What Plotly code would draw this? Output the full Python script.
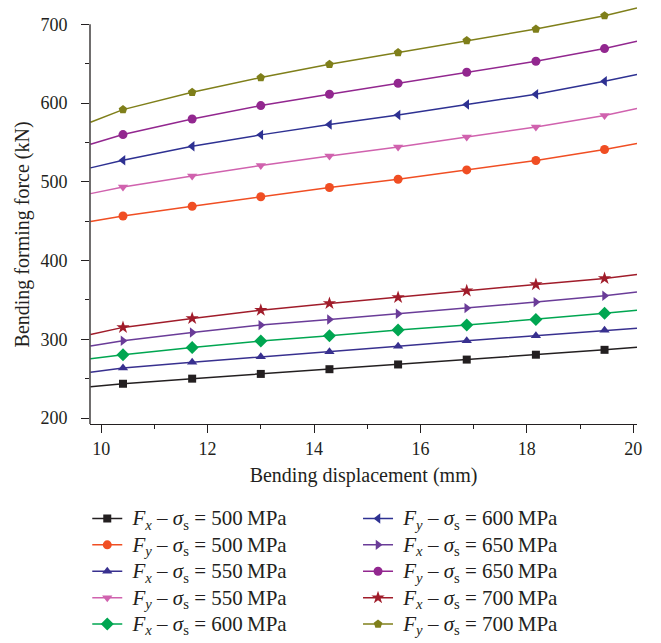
import plotly.graph_objects as go

# Bending displacement (mm): line runs edge to edge, markers on interior points
disp = [9.80, 10.41, 11.71, 13.00, 14.29, 15.58, 16.87, 18.17, 19.46, 20.07]

fx_500 = [239.7, 243.5, 250.0, 256.0, 262.0, 268.0, 274.2, 280.4, 286.6, 290.0]
fy_500 = [449.5, 456.6, 469.0, 481.0, 492.8, 503.3, 515.1, 527.0, 541.0, 548.6]
fx_550 = [258.0, 263.5, 270.7, 277.8, 284.2, 291.3, 298.1, 304.4, 311.6, 314.1]
fy_550 = [485.0, 493.4, 507.3, 520.8, 532.9, 544.3, 557.0, 569.7, 584.1, 593.0]
fx_600 = [275.3, 280.4, 289.7, 297.7, 304.4, 311.7, 318.0, 325.2, 332.9, 337.0]
fy_600 = [517.7, 527.4, 545.2, 559.6, 572.7, 584.9, 598.1, 611.2, 627.7, 636.2]
fx_650 = [291.4, 298.1, 308.7, 318.0, 325.2, 332.4, 339.6, 347.2, 355.2, 359.9]
fy_650 = [547.7, 560.0, 579.8, 596.8, 611.2, 625.1, 639.1, 653.1, 669.2, 678.4]
fx_700 = [306.2, 315.1, 326.5, 337.0, 345.5, 353.2, 361.6, 369.6, 377.3, 382.4]
fy_700 = [575.6, 591.7, 613.7, 632.4, 649.2, 664.1, 679.3, 694.0, 711.0, 720.7]

force_dir = ["x", "y", "x", "y", "x", "y", "x", "y", "x", "y"]
yield_mpa = [500, 500, 550, 550, 600, 600, 650, 650, 700, 700]

names = [f'<span style="font-size:21px">\u00a0<i>F</i><sub><i>{d}</i></sub> – '
         f'<i>σ</i><sub>s</sub> = {v}\u2009MPa</span>' for d, v in zip(force_dir, yield_mpa)]

series = [fx_500, fy_500, fx_550, fy_550, fx_600, fy_600, fx_650, fy_650, fx_700, fy_700]
colors = ["#231f20", "#f04e23", "#38308f", "#d062ae", "#00a651",
          "#2e3192", "#6a3c98", "#92278f", "#a01c2a", "#7f7f1a"]
symbols = ["square", "circle", "triangle-up", "triangle-down", "diamond",
           "triangle-left", "triangle-right", "circle", "star", "pentagon"]
sizes = [8, 9, 9, 9, 10, 9, 9, 9, 10, 9]

FONT = "Liberation Serif"
TXT = "#231f20"

fig = go.Figure()
for i, (nm, ys, c, s, sz) in enumerate(zip(names, series, colors, symbols, sizes)):
    lg = "legend" if i < 5 else "legend2"
    grp = f"g{i}"
    fig.add_trace(go.Scatter(x=disp, y=ys, mode="lines", line=dict(color=c, width=1.5),
                             showlegend=False, legendgroup=grp, hoverinfo="skip"))
    fig.add_trace(go.Scatter(x=disp[1:-1], y=ys[1:-1], mode="markers",
                             marker=dict(symbol=s, size=sz, color=c, line=dict(width=0)),
                             showlegend=False, legendgroup=grp))
    fig.add_trace(go.Scatter(x=[None], y=[None], mode="lines+markers", name=nm,
                             line=dict(color=c, width=1.5),
                             marker=dict(symbol=s, size=sz, color=c, line=dict(width=0)),
                             legendgroup=grp, legend=lg, showlegend=True))

ymin, ymax_axis, ymax_view = 192.4, 700, 722
fig.add_shape(type="line", xref="paper", yref="y", x0=0, x1=0, y0=ymin, y1=ymax_axis,
              line=dict(color=TXT, width=1.3), layer="above")

fig.add_annotation(text="Bending forming force (kN)", xref="paper", yref="paper",
                   x=-0.124, y=0.455, xanchor="center", yanchor="middle", textangle=-90,
                   showarrow=False, font=dict(family=FONT, size=20, color=TXT))

legend_common = dict(font=dict(family=FONT, size=18, color=TXT), bgcolor="rgba(0,0,0,0)",
                     borderwidth=0, orientation="v", yanchor="top", xanchor="left",
                     xref="paper", yref="container",
                     traceorder="grouped", tracegroupgap=0)
fig.update_layout(
    width=661, height=643,
    margin=dict(l=90, r=24, t=7, b=219),
    paper_bgcolor="white", plot_bgcolor="white",
    font=dict(family=FONT, color=TXT, size=18),
    xaxis=dict(range=[9.79, 20.07], tickvals=[10, 12, 14, 16, 18, 20],
               showgrid=False, zeroline=False, showline=True, linecolor=TXT, linewidth=1.3,
               ticks="outside", ticklen=8, tickwidth=1.3, tickcolor=TXT,
               tickfont=dict(family=FONT, size=18, color=TXT),
               minor=dict(dtick=1, tick0=10, ticks="outside", ticklen=4, tickwidth=1.3, tickcolor=TXT),
               title=dict(text="Bending displacement (mm)", font=dict(family=FONT, size=20, color=TXT), standoff=10)),
    yaxis=dict(range=[ymin, ymax_view], tickvals=[200, 300, 400, 500, 600, 700],
               showgrid=False, zeroline=False, showline=False,
               ticks="outside", ticklen=8, tickwidth=1.3, tickcolor=TXT, ticklabelstandoff=10,
               tickfont=dict(family=FONT, size=18, color=TXT),
               minor=dict(tickvals=[250, 350, 450, 550, 650], ticks="outside", ticklen=4, tickwidth=1.3, tickcolor=TXT)),
    legend=dict(x=-0.005, y=0.222, **legend_common),
    legend2=dict(x=0.49, y=0.222, **legend_common),
)

fig.write_html("out.html")
